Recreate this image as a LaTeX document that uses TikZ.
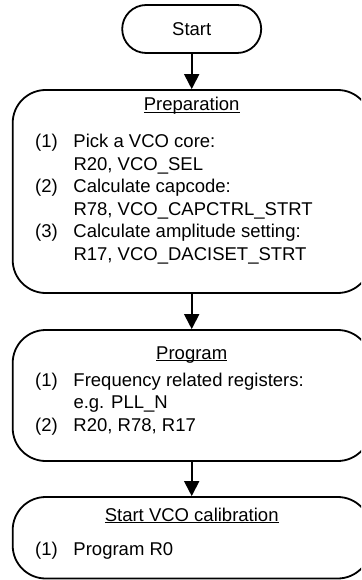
\documentclass[tikz,border=0pt]{standalone}
\usepackage{fontspec}
\setmainfont{Liberation Sans}
\usetikzlibrary{arrows.meta}
\newcommand{\headline}[1]{\underline{\smash{#1}}}

\begin{document}
\begin{tikzpicture}[
  x=1pt, y=1pt,
  every node/.style={font=\fontsize{18.5}{22.5}\selectfont, inner sep=0pt},
  term/.style={draw, line width=1.8pt, rounded corners=24pt,
               minimum width=139pt, minimum height=48pt},
  stage/.style={draw, line width=1.8pt, rounded corners=33pt,
                minimum width=358pt},
  items/.style={anchor=north west, align=left},
  arr/.style={-{Triangle[length=15pt,width=15pt]}, line width=1.8pt},
]
  \useasboundingbox (0,0) rectangle (361,-580);
  \clip (0,0) rectangle (361,-580);

  % Start terminal
  \node[term] (start) at (191.7,-29) {Start};

  % Preparation
  \node[stage, minimum height=203pt] (prep) at (191.7,-191.5) {};
  \node[anchor=base] (preptitle) at (191.7,-111) {\headline{Preparation}};
  \node[items] (prepitems) at (35,-131.75) {%
    \begin{tabular}{@{}p{38.3pt}@{}l@{}}
      (1) & Pick a VCO core:\\
          & R20, VCO\_SEL\\
      (2) & Calculate capcode:\\
          & R78, VCO\_CAPCTRL\_STRT\\
      (3) & Calculate amplitude setting:\\
          & R17, VCO\_DACISET\_STRT
    \end{tabular}};

  % Program
  \node[stage, minimum height=131pt] (prog) at (191.7,-395.5) {};
  \node[anchor=base] (progtitle) at (191.7,-359) {\headline{Program}};
  \node[items] (progitems) at (35,-370.25) {%
    \begin{tabular}{@{}p{38.3pt}@{}l@{}}
      (1) & Frequency related registers:\\
          & e.g. PLL\_N\\
      (2) & R20, R78, R17
    \end{tabular}};

  % Calibration
  \node[stage, minimum height=81.5pt] (cal) at (191.7,-537.75) {};
  \node[anchor=base] (caltitle) at (191.7,-521) {\headline{Start VCO calibration}};
  \node[items] (calitems) at (35,-539.25) {%
    \begin{tabular}{@{}p{38.3pt}@{}l@{}}
      (1) & Program R0
    \end{tabular}};

  % Flow
  \draw[arr] (start) -- (prep);
  \draw[arr] (prep) -- (prog);
  \draw[arr] (prog) -- (cal);
\end{tikzpicture}
\end{document}
